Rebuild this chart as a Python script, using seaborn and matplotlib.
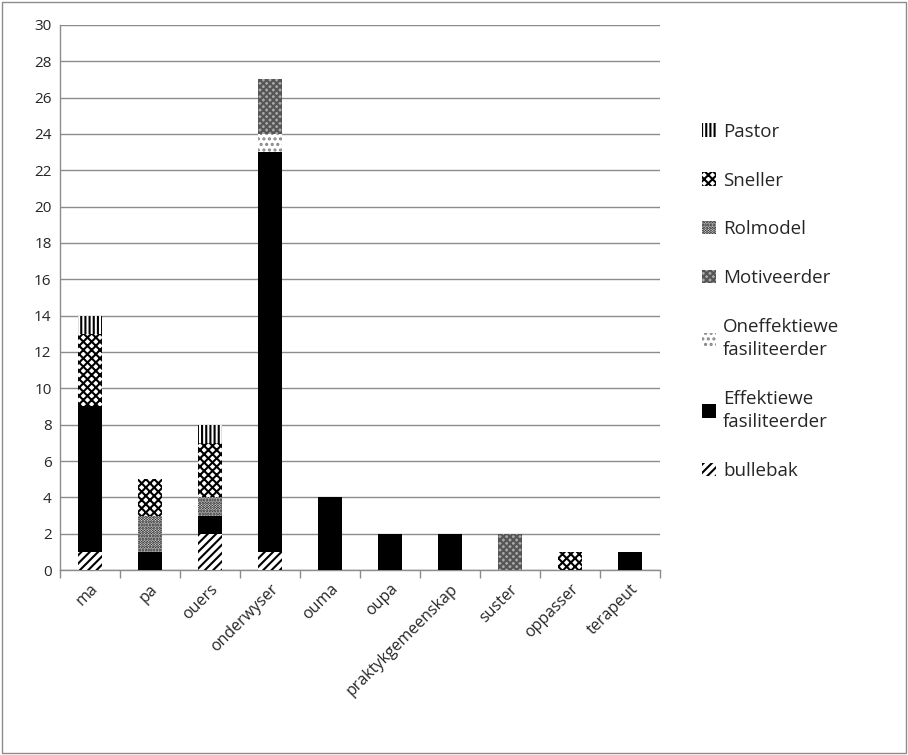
import numpy as np
import pandas as pd
import matplotlib
matplotlib.use("Agg")
import matplotlib.pyplot as plt
import seaborn as sns
from matplotlib.patches import Patch, Rectangle

categories = ["ma", "pa", "ouers", "onderwyser", "ouma", "oupa",
              "praktykgemeenskap", "suster", "oppasser", "terapeut"]

# series, bottom to top
bullebak = [1, 0, 2, 1, 0, 0, 0, 0, 0, 0]
effektiewe = [8, 1, 1, 22, 4, 2, 2, 0, 0, 1]
oneffektiewe = [0, 0, 0, 1, 0, 0, 0, 0, 0, 0]
motiveerder = [0, 0, 0, 3, 0, 0, 0, 2, 0, 0]
rolmodel = [0, 2, 1, 0, 0, 0, 0, 0, 0, 0]
sneller = [4, 2, 3, 0, 0, 0, 0, 0, 1, 0]
pastor = [1, 0, 1, 0, 0, 0, 0, 0, 0, 0]

series_names = ["bullebak", "Effektiewe\nfasiliteerder", "Oneffektiewe\nfasiliteerder",
                "Motiveerder", "Rolmodel", "Sneller", "Pastor"]
series_values = [bullebak, effektiewe, oneffektiewe, motiveerder, rolmodel, sneller, pastor]

# (facecolor, hatch colour, hatch)
styles = [
    ("white", "black", "////"),
    ("black", "black", ""),
    ("white", "#888888", "..."),
    ("#a8a8a8", "#555555", "xxxxx"),
    ("white", "black", "......"),
    ("white", "black", "xxxx"),
    ("white", "black", "||||"),
]

sns.set_theme(style="white")
plt.rcParams["font.family"] = ["Open Sans", "DejaVu Sans"]
plt.rcParams["hatch.linewidth"] = 1.5

fig = plt.figure(figsize=(9.08, 7.55), dpi=100)
ax = fig.add_axes([0.066, 0.245, 0.661, 0.722])

# stacked bars: draw cumulative totals from the top series down
cum = np.cumsum(np.array(series_values), axis=0)
for i in range(len(series_names) - 1, -1, -1):
    df = pd.DataFrame({"cat": categories, "val": cum[i]})
    face, hcol, hatch = styles[i]
    sns.barplot(data=df, x="cat", y="val", color=face, width=0.4,
                edgecolor=hcol, linewidth=0, hatch=hatch, ax=ax,
                saturation=1, zorder=3)

ax.set_xlim(-0.5, len(categories) - 0.5)
ax.set_ylim(0, 30)
ax.set_yticks(range(0, 31, 2))
ax.yaxis.grid(True, color="#8c8c8c", linewidth=1)
ax.set_axisbelow(True)
ax.set_xlabel("")
ax.set_ylabel("")
for s in ["top", "right"]:
    ax.spines[s].set_visible(False)
for s in ["left", "bottom"]:
    ax.spines[s].set_color("#8c8c8c")
    ax.spines[s].set_linewidth(1)

ax.set_xticks(range(len(categories)))
ax.set_xticklabels(categories, rotation=45, ha="right", rotation_mode="anchor", fontsize=11.5)
ax.set_xticks(np.arange(-0.5, len(categories), 1), minor=True)
ax.tick_params(axis="x", which="major", length=0, pad=8)
ax.tick_params(axis="x", which="minor", length=6, color="#8c8c8c", width=1, direction="out", bottom=True)
ax.tick_params(axis="y", length=0, labelsize=11, pad=6)

handles = []
labels = []
for i in range(len(series_names) - 1, -1, -1):
    face, hcol, hatch = styles[i]
    handles.append(Patch(facecolor=face, edgecolor=hcol, hatch=hatch, linewidth=0))
    labels.append(series_names[i])
leg = fig.legend(handles, labels, loc="upper left", bbox_to_anchor=(0.755, 0.86),
                 frameon=False, fontsize=13.5, handlelength=0.7, handleheight=0.7,
                 handletextpad=0.4, labelspacing=1.65)
for t in leg.get_texts():
    t.set_linespacing(1.35)

fig.patches.append(Rectangle((0.002, 0.002), 0.996, 0.996, transform=fig.transFigure,
                             fill=False, edgecolor="#8c8c8c", linewidth=1))

fig.savefig("out.png", dpi=100)
